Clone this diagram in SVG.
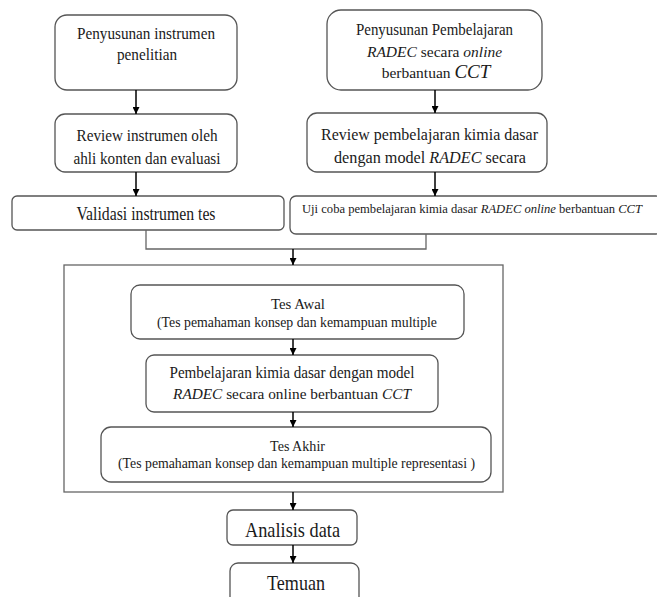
<svg xmlns="http://www.w3.org/2000/svg" width="657" height="597" viewBox="0 0 657 597">
  <style>
    .box { fill: #ffffff; stroke: #555555; stroke-width: 1.3; }
    .frame { fill: none; stroke: #666666; stroke-width: 1.3; }
    .t { font-family: "Liberation Serif", "Times New Roman", serif; fill: #1a1a1a; text-anchor: middle; }
    .i { font-style: italic; }
    .arrow { stroke: #000000; stroke-width: 1.5; fill: none; marker-end: url(#head); }
    .join { stroke: #666666; stroke-width: 1.3; fill: none; }
  </style>
  <defs>
    <marker id="head" viewBox="0 0 10 10" refX="10" refY="5" markerWidth="7" markerHeight="7" markerUnits="userSpaceOnUse" orient="auto">
      <path d="M0,0 L10,5 L0,10 z" fill="#000000"/>
    </marker>
  </defs>
  <rect width="657" height="597" fill="#ffffff"/>

  <!-- left column -->
  <g id="penyusunan-instrumen">
    <rect class="box" x="55" y="15" width="182" height="75" rx="12"/>
    <text class="t" x="146" y="39" font-size="17" textLength="138" lengthAdjust="spacingAndGlyphs">Penyusunan instrumen</text>
    <text class="t" x="147" y="60" font-size="17" textLength="60" lengthAdjust="spacingAndGlyphs">penelitian</text>
  </g>
  <g id="review-instrumen">
    <rect class="box" x="55" y="114" width="182" height="58" rx="10"/>
    <text class="t" x="147" y="141" font-size="17" textLength="141" lengthAdjust="spacingAndGlyphs">Review instrumen oleh</text>
    <text class="t" x="147" y="164" font-size="17" textLength="147" lengthAdjust="spacingAndGlyphs">ahli konten dan evaluasi</text>
  </g>
  <g id="validasi">
    <rect class="box" x="12" y="196" width="272" height="34" rx="5"/>
    <text class="t" x="146" y="220" font-size="19" textLength="139" lengthAdjust="spacingAndGlyphs">Validasi instrumen tes</text>
  </g>

  <!-- right column -->
  <g id="penyusunan-pembelajaran">
    <rect class="box" x="327" y="10" width="215" height="80" rx="14"/>
    <text class="t" x="434.5" y="35" font-size="17" textLength="157" lengthAdjust="spacingAndGlyphs">Penyusunan Pembelajaran</text>
    <text class="t" x="434.5" y="57" font-size="15.5"><tspan class="i">RADEC</tspan> secara <tspan class="i">online</tspan></text>
    <text class="t" x="436" y="78" font-size="15.5">berbantuan <tspan class="i" font-size="19">CCT</tspan></text>
  </g>
  <g id="review-pembelajaran">
    <rect class="box" x="307" y="113" width="240" height="59" rx="10"/>
    <text class="t" x="429.5" y="140" font-size="17" textLength="217" lengthAdjust="spacingAndGlyphs">Review pembelajaran kimia dasar</text>
    <text class="t" x="430" y="163" font-size="17" textLength="192" lengthAdjust="spacingAndGlyphs">dengan model  <tspan class="i">RADEC</tspan> secara</text>
  </g>
  <g id="uji-coba">
    <rect class="box" x="290" y="196" width="372" height="38" rx="6"/>
    <text class="t" x="472" y="213" font-size="12.5" textLength="340" lengthAdjust="spacingAndGlyphs">Uji coba pembelajaran kimia dasar <tspan class="i">RADEC</tspan>  <tspan class="i">online</tspan> berbantuan <tspan class="i">CCT</tspan></text>
  </g>

  <!-- implementation stage -->
  <g id="pelaksanaan">
    <rect class="frame" x="64" y="265" width="439" height="227"/>
  </g>
  <g id="tes-awal">
    <rect class="box" x="131" y="285" width="333" height="54" rx="9"/>
    <text class="t" x="298" y="309" font-size="15" textLength="54" lengthAdjust="spacingAndGlyphs">Tes Awal</text>
    <text class="t" x="297" y="327" font-size="15" textLength="280" lengthAdjust="spacingAndGlyphs">(Tes pemahaman konsep dan kemampuan multiple</text>
  </g>
  <g id="pembelajaran">
    <rect class="box" x="146" y="355" width="292" height="57" rx="8"/>
    <text class="t" x="292" y="378" font-size="16.5" textLength="245" lengthAdjust="spacingAndGlyphs">Pembelajaran kimia dasar dengan model</text>
    <text class="t" x="292" y="399" font-size="15.3"><tspan class="i">RADEC</tspan> secara online berbantuan <tspan class="i">CCT</tspan></text>
  </g>
  <g id="tes-akhir">
    <rect class="box" x="101" y="427" width="390" height="55" rx="10"/>
    <text class="t" x="297.5" y="451" font-size="15" textLength="55" lengthAdjust="spacingAndGlyphs">Tes Akhir</text>
    <text class="t" x="296.5" y="468" font-size="15" textLength="357" lengthAdjust="spacingAndGlyphs">(Tes pemahaman konsep dan kemampuan multiple representasi )</text>
  </g>

  <!-- results -->
  <g id="analisis-data">
    <rect class="box" x="227" y="510" width="130" height="35" rx="6"/>
    <text class="t" x="292.5" y="537" font-size="21" textLength="95" lengthAdjust="spacingAndGlyphs">Analisis data</text>
  </g>
  <g id="temuan">
    <rect class="box" x="230" y="563" width="129" height="50" rx="8"/>
    <text class="t" x="296" y="590" font-size="21" textLength="58" lengthAdjust="spacingAndGlyphs">Temuan</text>
  </g>

  <!-- connectors -->
  <g id="connectors">
    <line class="arrow" x1="136" y1="90" x2="136" y2="114"/>
    <line class="arrow" x1="136" y1="172" x2="136" y2="196"/>
    <line class="arrow" x1="435" y1="90" x2="435" y2="113"/>
    <line class="arrow" x1="435" y1="172" x2="435" y2="196"/>
    <polyline class="join" points="146,230 146,249 426,249 426,234"/>
    <line class="arrow" x1="293" y1="249" x2="293" y2="265"/>
    <line class="arrow" x1="293" y1="339" x2="293" y2="355"/>
    <line class="arrow" x1="293" y1="412" x2="293" y2="427"/>
    <line class="arrow" x1="293" y1="492" x2="293" y2="510"/>
    <line class="arrow" x1="293" y1="545" x2="293" y2="563"/>
  </g>
</svg>
